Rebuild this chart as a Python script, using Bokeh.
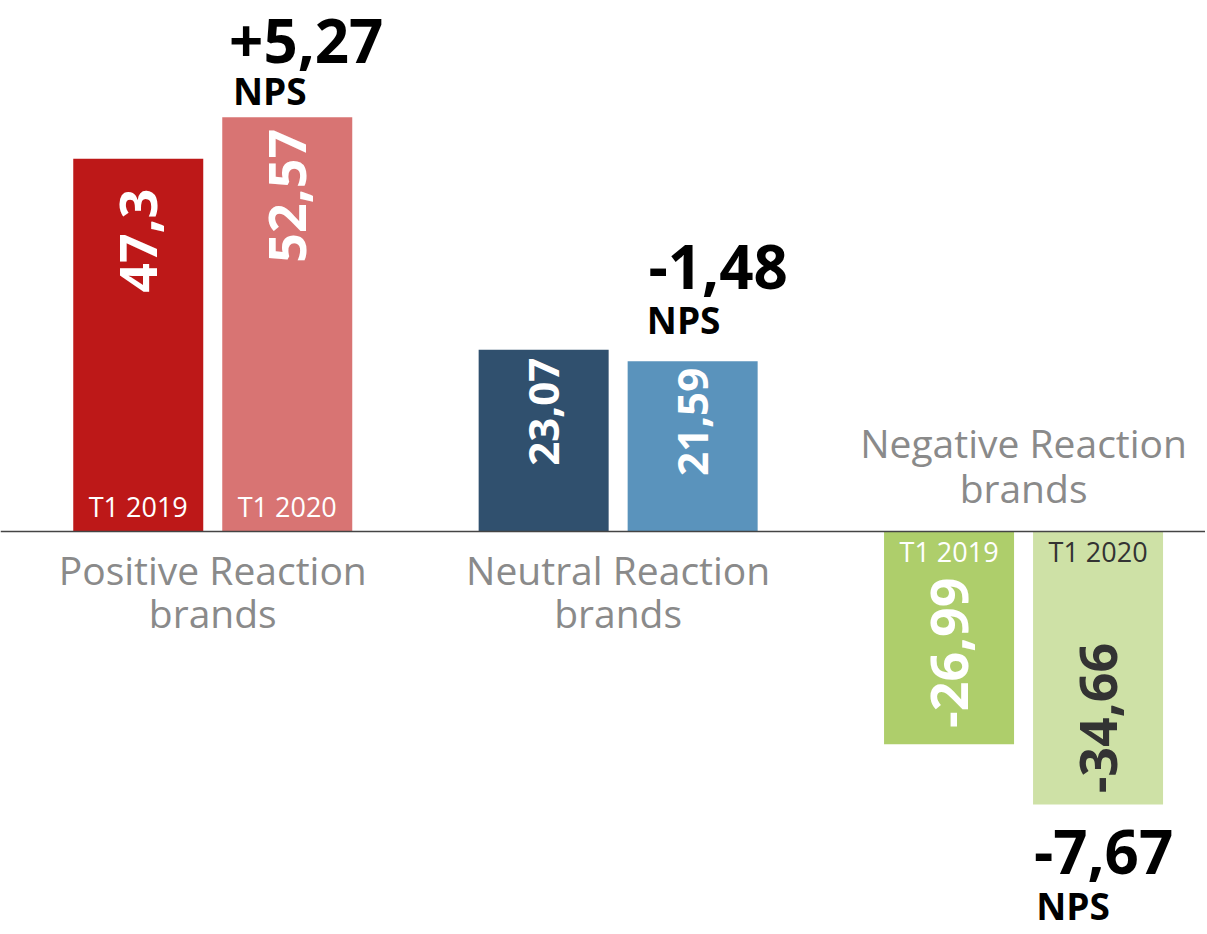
import math
from bokeh.plotting import figure
from bokeh.models import Range1d, Span, ColumnDataSource
from bokeh.embed import file_html
from bokeh.resources import INLINE
from bokeh.core.properties import value

# ---------------- data ----------------
groups = ["Positive Reaction\nbrands", "Neutral Reaction\nbrands", "Negative Reaction\nbrands"]
periods = ["T1 2019", "T1 2020"]
scores_2019 = [47.3, 23.07, -26.99]
scores_2020 = [52.57, 21.59, -34.66]

# ---------------- style ----------------
bar_colors = [["#BD1818", "#D87473"], ["#30506E", "#5A93BC"], ["#AECE6B", "#CEE1A6"]]
value_text_colors = [["white", "white"], ["white", "white"], ["white", "#333333"]]
period_text_colors = [["white", "white"], ["white", "white"], ["white", "#333333"]]
show_period = [True, False, True]
value_font_sizes = [52, 42, 52]
# centre of rotated value label, px from bar end toward axis
value_shift_px = [[82, 78.5], [62, 60.5], [91.5, 86.5]]
# NPS labels: x shift (px) from 2020 bar centre, baseline distance (px) from bar end
nps_num_dx = [19, 25.5, 5.5]
nps_word_dx = [-17.5, -9, -25]
nps_num_gap = [51, 69, 73]
nps_word_gap = [11, 26, 116]

FONT = "Open Sans"
BASE_FIX = 0.42  # renderer puts alphabetic baseline ~0.42em below the anchor
W, H = 1205, 932
PX, PY = 405.4, 7.88
X0 = -212.25 / PX
X1 = X0 + W / PX
Y1 = 531 / PY
Y0 = Y1 - H / PY
dodge = 149 / PX
bar_w = 130 / PX


def dx(px):
    return px / PX


def dy(px):
    return px / PY


def fmt(v):
    return f"{v:g}".replace(".", ",")


p = figure(width=W, height=H, x_range=Range1d(X0, X1), y_range=Range1d(Y0, Y1),
           output_backend="svg", toolbar_location=None,
           x_axis_location=None, y_axis_location=None, min_border=0)
p.outline_line_color = None
p.xgrid.visible = False
p.ygrid.visible = False
p.background_fill_color = "white"

xs, tops, bottoms, cols = [], [], [], []
vx, vy, vt, vc, vs = [], [], [], [], []
tx, ty, tt, tc = [], [], [], []
PER_FS = 27
for g in range(len(groups)):
    vals = [scores_2019[g], scores_2020[g]]
    for s in range(2):
        v = vals[s]
        x = g + (s - 0.5) * dodge
        sign = 1 if v >= 0 else -1
        xs.append(x)
        tops.append(max(v, 0))
        bottoms.append(min(v, 0))
        cols.append(bar_colors[g][s])
        vx.append(x)
        vy.append(v - sign * dy(value_shift_px[g][s]))
        vt.append(fmt(v))
        vc.append(value_text_colors[g][s])
        vs.append(f"{value_font_sizes[g]}px")
        if show_period[g]:
            tx.append(x)
            base = dy(14) if sign > 0 else -dy(31)
            ty.append(base + dy(BASE_FIX * PER_FS))
            tt.append(periods[s])
            tc.append(period_text_colors[g][s])

p.vbar(x=xs, top=tops, bottom=bottoms, width=bar_w, color=cols, line_color=None)

p.add_layout(Span(location=0, dimension="width", line_color="#444444", line_width=1.5))

src_v = ColumnDataSource(dict(x=vx, y=vy, t=vt, c=vc, s=vs))
p.text(x="x", y="y", text="t", source=src_v, text_color="c", text_font_size="s",
       text_font=value(FONT), text_font_style="bold", angle=math.pi / 2,
       text_align="center", text_baseline="middle")

src_t = ColumnDataSource(dict(x=tx, y=ty, t=tt, c=tc))
p.text(x="x", y="y", text="t", source=src_t, text_color="c", text_font_size=f"{PER_FS}px",
       text_font=value(FONT), text_align="center", text_baseline="alphabetic")

# category labels
CAT_FS = 39
cx, cy, ct = [], [], []
for g, name in enumerate(groups):
    lines = name.split("\n")
    positive = (scores_2019[g] + scores_2020[g]) >= 0
    offs = [-dy(54), -dy(97)] if positive else [dy(73), dy(28)]
    for ln, o in zip(lines, offs):
        cx.append(g)
        cy.append(o + dy(BASE_FIX * CAT_FS))
        ct.append(ln)
p.text(x=cx, y=cy, text=ct, text_color="#8A8A8A", text_font_size=f"{CAT_FS}px",
       text_font=value(FONT), text_align="center", text_baseline="alphabetic")

# NPS change labels
NUM_FS, WORD_FS = 60, 37
nx, ny, nt, wx, wy = [], [], [], [], []
for g in range(len(groups)):
    d = scores_2020[g] - scores_2019[g]
    v = scores_2020[g]
    xc = g + 0.5 * dodge
    up = v >= 0
    nx.append(xc + dx(nps_num_dx[g]))
    ny.append((v + dy(nps_num_gap[g]) if up else v - dy(nps_num_gap[g])) + dy(BASE_FIX * NUM_FS))
    nt.append(f"{d:+.2f}".replace(".", ","))
    wx.append(xc + dx(nps_word_dx[g]))
    wy.append((v + dy(nps_word_gap[g]) if up else v - dy(nps_word_gap[g])) + dy(BASE_FIX * WORD_FS))
p.text(x=nx, y=ny, text=nt, text_color="black", text_font_size=f"{NUM_FS}px",
       text_font=value(FONT), text_font_style="bold", text_align="center",
       text_baseline="alphabetic")
p.text(x=wx, y=wy, text=["NPS"] * len(wx), text_color="black", text_font_size=f"{WORD_FS}px",
       text_font=value(FONT), text_font_style="bold", text_align="center",
       text_baseline="alphabetic")

open("out.html", "w").write(file_html(p, INLINE))
